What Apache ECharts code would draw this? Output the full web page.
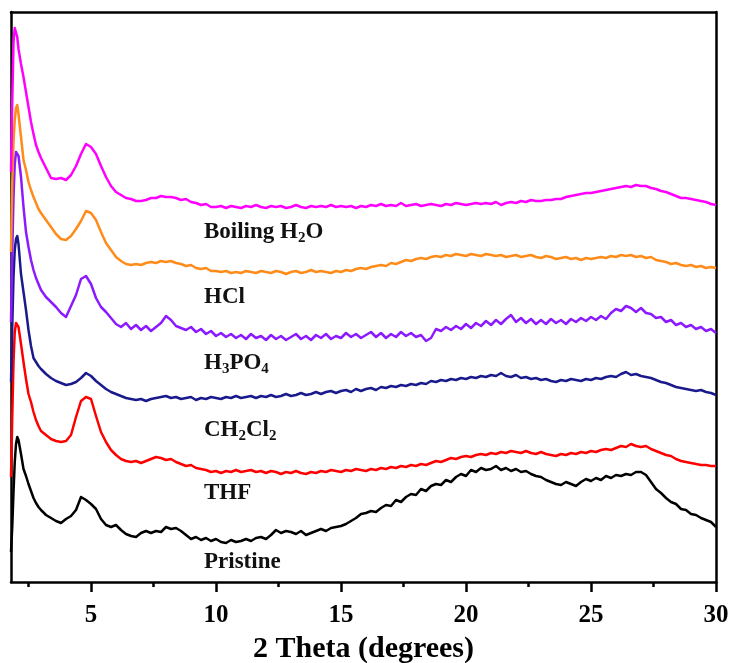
<!DOCTYPE html>
<html>
<head>
<meta charset="utf-8">
<script src="https://cdn.jsdelivr.net/npm/echarts@6/dist/echarts.min.js"></script>
<style>
  html, body { margin: 0; padding: 0; background: #ffffff; }
  #chart { width: 732px; height: 663px; }
</style>
</head>
<body>
<div id="chart"></div>
<script>
// Diffraction angle grid (2θ, degrees), shared by every pattern
const twoTheta = [
  1.8, 1.85, 1.9, 1.95, 2.0, 2.05, 2.1, 2.2, 2.3, 2.4, 2.5, 2.6, 2.7, 2.8, 2.9,
  3.0, 3.2, 3.4, 3.6, 3.8,  4.0, 4.2, 4.4, 4.6, 4.8,  5.0, 5.2, 5.4, 5.6, 5.8,
  6.0, 6.2, 6.4, 6.6, 6.8,  7.0, 7.2, 7.4, 7.6, 7.8,  8.0, 8.2, 8.4, 8.6, 8.8,
  9.0, 9.2, 9.4, 9.6, 9.8,  10.0, 10.2, 10.4, 10.6, 10.8,  11.0, 11.2, 11.4, 11.6, 11.8,
  12.0, 12.2, 12.4, 12.6, 12.8,  13.0, 13.2, 13.4, 13.6, 13.8,  14.0, 14.2, 14.4, 14.6, 14.8,
  15.0, 15.2, 15.4, 15.6, 15.8,  16.0, 16.2, 16.4, 16.6, 16.8,  17.0, 17.2, 17.4, 17.6, 17.8,
  18.0, 18.2, 18.4, 18.6, 18.8,  19.0, 19.2, 19.4, 19.6, 19.8,  20.0, 20.2, 20.4, 20.6, 20.8,
  21.0, 21.2, 21.4, 21.6, 21.8,  22.0, 22.2, 22.4, 22.6, 22.8,  23.0, 23.2, 23.4, 23.6, 23.8,
  24.0, 24.2, 24.4, 24.6, 24.8,  25.0, 25.2, 25.4, 25.6, 25.8,  26.0, 26.2, 26.4, 26.6, 26.8,
  27.0, 27.2, 27.4, 27.6, 27.8,  28.0, 28.2, 28.4, 28.6, 28.8,  29.0, 29.2, 29.4, 29.6, 29.8,
  30.0
];

// Stacked intensities (a.u., vertically offset patterns)
const boilingH2O = [
  410, 480, 540, 554, 553, 545, 533, 518, 505, 490, 475, 460, 448, 437, 430,
  424, 414, 404, 403, 404,  402, 407, 416, 428, 438,  435, 428, 416, 405, 396,
  390, 387, 384, 383, 381,  381, 382, 384, 384, 386,  385, 385, 384, 382, 383,
  380, 379, 377, 378, 375,  375, 376, 374, 376, 375,  374, 376, 375, 377, 375,
  374, 376, 375, 376, 374,  375, 377, 375, 374, 376,  375, 376, 375, 377, 375,
  376, 375, 376, 374, 376,  375, 377, 376, 378, 376,  377, 376, 379, 376, 377,
  378, 376, 377, 378, 377,  376, 378, 377, 379, 378,  377, 378, 379, 378, 379,
  378, 380, 377, 379, 380,  379, 381, 380, 382, 381,  381, 382, 382, 383, 383,
  385, 386, 387, 388, 389,  389, 390, 391, 392, 393,  394, 395, 396, 395, 397,
  396, 396, 394, 393, 391,  390, 388, 386, 384, 384,  383, 382, 381, 380, 378,
  377
];

const hcl = [
  330, 400, 440, 462, 474, 477, 468, 445, 422, 412, 400, 392, 385, 379, 373,
  369, 362, 355, 348, 343,  342, 346, 353, 361, 371,  369, 362, 350, 339, 332,
  325, 321, 318, 317, 318,  317, 319, 320, 319, 321,  320, 321, 319, 318, 316,
  317, 314, 313, 314, 311,  311, 310, 311, 309, 310,  309, 311, 310, 309, 311,
  310, 309, 311, 310, 308,  310, 311, 309, 310, 312,  310, 311, 310, 309, 311,
  310, 312, 311, 313, 314,  313, 315, 316, 317, 316,  319, 318, 320, 322, 321,
  323, 324, 323, 325, 326,  325, 327, 326, 328, 327,  326, 328, 327, 326, 328,
  327, 326, 327, 325, 326,  327, 325, 326, 327, 325,  324, 326, 325, 323, 324,
  325, 323, 324, 322, 324,  323, 324, 325, 324, 326,  325, 327, 326, 327, 325,
  326, 324, 325, 322, 321,  320, 318, 319, 317, 316,  317, 315, 316, 314, 315,
  314
];

const h3po4 = [
  260, 330, 385, 418, 430, 432, 426, 405, 375, 350, 335, 322, 312, 304, 298,
  292, 285, 280, 275, 269,  265, 276, 287, 303, 306,  298, 284, 275, 270, 264,
  258, 255, 259, 253, 257,  252, 256, 251, 255, 259,  266, 262, 256, 254, 252,
  255, 250, 253, 248, 251,  246, 249, 245, 248, 244,  247, 243, 248, 244, 246,
  242, 247, 243, 246, 242,  245, 248, 243, 246, 242,  247, 244, 248, 243, 246,
  244, 249, 245, 248, 244,  247, 250, 245, 249, 244,  248, 245, 250, 246, 249,
  245, 247, 241, 244, 253,  251, 255, 252, 256, 253,  258, 254, 259, 256, 261,
  257, 262, 258, 263, 267,  260, 264, 259, 263, 258,  262, 258, 263, 259, 262,
  258, 263, 260, 264, 261,  265, 262, 266, 263, 269,  273, 271, 276, 274, 270,
  274, 269, 268, 264, 265,  260, 262, 257, 259, 255,  257, 253, 255, 251, 253,
  249
];

const ch2cl2 = [
  200, 255, 305, 332, 343, 346, 338, 308, 290, 272, 252, 236, 224, 220, 216,
  213, 208, 204, 201, 199,  197, 198, 200, 204, 209,  206, 201, 197, 193, 190,
  188, 186, 184, 183, 182,  183, 181, 183, 184, 185,  186, 184, 185, 183, 184,
  185, 182, 184, 183, 185,  184, 183, 185, 184, 186,  184, 185, 186, 184, 186,
  185, 187, 185, 186, 188,  186, 187, 189, 187, 188,  190, 188, 190, 191, 189,
  191, 192, 190, 193, 191,  193, 194, 192, 195, 194,  196, 195, 197, 196, 198,
  197, 199, 198, 201, 200,  202, 201, 203, 202, 204,  203, 205, 204, 206, 205,
  207, 206, 209, 206, 205,  207, 204, 205, 203, 204,  202, 203, 201, 200, 202,
  201, 203, 202, 201, 203,  202, 204, 203, 205, 206,  205, 208, 210, 207, 208,
  206, 205, 204, 202, 200,  199, 197, 195, 194, 193,  192, 191, 192, 190, 189,
  187
];

const thf = [
  105, 165, 220, 250, 259, 261, 255, 238, 220, 203, 188, 180, 170, 162, 156,
  151, 147, 143, 141, 140,  141, 147, 165, 181, 185,  183, 166, 150, 140, 132,
  127, 123, 121, 120, 121,  119, 121, 123, 125, 124,  122, 123, 120, 118, 116,
  117, 114, 113, 112, 110,  111, 109, 111, 110, 112,  110, 111, 112, 110, 111,
  109, 111, 110, 108, 110,  109, 111, 109, 108, 110,  109, 111, 110, 112, 111,
  110, 112, 111, 113, 112,  111, 113, 112, 114, 113,  115, 114, 116, 115, 117,
  116, 118, 117, 119, 121,  120, 122, 124, 123, 125,  126, 125, 127, 128, 127,
  129, 128, 130, 129, 131,  130, 129, 131, 129, 128,  130, 128, 127, 126, 128,
  127, 129, 128, 130, 129,  131, 130, 132, 133, 132,  134, 136, 135, 138, 136,
  135, 136, 133, 131, 129,  127, 126, 123, 121, 120,  119, 118, 117, 117, 116,
  116
];

const pristine = [
  30, 55, 90, 120, 138, 145, 142, 128, 113, 106, 98, 91, 84, 79, 75,
  72, 67, 64, 61, 59,  63, 66, 72, 85, 82,  78, 73, 63, 57, 55,
  57, 52, 48, 46, 45,  49, 51, 49, 51, 50,  55, 53, 54, 51, 47,
  43, 45, 42, 44, 41,  43, 40, 39, 42, 40,  41, 43, 41, 44, 45,
  43, 47, 52, 49, 51,  50, 48, 51, 47, 49,  51, 53, 51, 54, 55,
  56, 58, 61, 64, 68,  69, 71, 70, 74, 77,  76, 82, 80, 85, 88,
  87, 93, 91, 96, 98,  97, 102, 100, 105, 108,  106, 112, 110, 114, 112,
  113, 116, 112, 114, 111,  113, 110, 111, 108, 106,  105, 102, 100, 98, 97,
  100, 98, 96, 100, 103,  101, 104, 102, 106, 104,  107, 106, 108, 107, 110,
  110, 107, 100, 93, 89,  84, 80, 78, 73, 72,  68, 67, 64, 62, 60,
  55
];

// Sample names (plain) and their on-chart captions (rich text with subscripts)
const sampleNames = ['Pristine', 'THF', 'CH2Cl2', 'H3PO4', 'HCl', 'Boiling H2O'];
const sampleCaptions = [
  'Pristine',
  'THF',
  'CH{s|2}Cl{s|2}',
  'H{s|3}PO{s|4}',
  'HCl',
  'Boiling H{s|2}O'
];
const sampleSeries = [pristine, thf, ch2cl2, h3po4, hcl, boilingH2O];

// Axis tick positions
const majorTicks = [5, 10, 15, 20, 25, 30];
const minorTicks = [2.5, 7.5, 12.5, 17.5, 22.5, 27.5];

const colors = ['#000000', '#ff0000', '#1a1a8c', '#8c1aff', '#ff8c1a', '#ff00ff'];
const captionTops = [548, 479, 416, 349, 283, 218];
const serif = '"Liberation Serif", "Times New Roman", serif';

const chart = echarts.init(document.getElementById('chart'), null, { renderer: 'canvas' });

const series = sampleSeries.map((vals, i) => ({
  name: sampleNames[i],
  type: 'line',
  xAxisIndex: 0,
  yAxisIndex: 0,
  data: twoTheta.map((t, k) => [t, vals[k]]),
  showSymbol: false,
  symbol: 'none',
  smooth: false,
  lineStyle: { width: 2.5, color: colors[i], join: 'round' },
  itemStyle: { color: colors[i] },
  z: 3 + i,
  silent: true,
  animation: false
}));

const captions = sampleCaptions.map((txt, i) => ({
  type: 'text',
  left: 204,
  top: captionTops[i],
  style: {
    text: txt,
    fill: '#111',
    fontSize: 23,
    fontWeight: 'bold',
    fontFamily: serif,
    lineHeight: 28,
    rich: {
      s: {
        fontSize: 15,
        fontWeight: 'bold',
        fontFamily: serif,
        fill: '#111',
        verticalAlign: 'bottom',
        lineHeight: 12
      }
    }
  }
}));

chart.setOption({
  backgroundColor: '#ffffff',
  animation: false,
  grid: { left: 11, right: 16, top: 12, bottom: 81, containLabel: false, outerBoundsMode: 'none' },
  xAxis: [
    {
      type: 'value',
      min: 1.8,
      max: 30,
      position: 'bottom',
      axisLine: { show: true, lineStyle: { color: '#000', width: 2.5 } },
      axisTick: { show: true, customValues: majorTicks, length: 10, inside: false, lineStyle: { color: '#000', width: 2.5 } },
      axisLabel: {
        show: true,
        customValues: majorTicks,
        margin: 21,
        color: '#000',
        fontSize: 25,
        fontWeight: 'bold',
        fontFamily: serif
      },
      splitLine: { show: false },
      name: '2 Theta (degrees)',
      nameLocation: 'middle',
      nameGap: 52,
      nameTextStyle: { color: '#000', fontSize: 30, fontWeight: 'bold', fontFamily: serif }
    },
    {
      type: 'value',
      min: 1.8,
      max: 30,
      position: 'bottom',
      axisLine: { show: false },
      axisTick: { show: true, customValues: minorTicks, length: 5, lineStyle: { color: '#000', width: 2.5 } },
      axisLabel: { show: false },
      splitLine: { show: false }
    },
    {
      type: 'value',
      min: 1.8,
      max: 30,
      position: 'top',
      axisLine: { show: true, lineStyle: { color: '#000', width: 2.5 } },
      axisTick: { show: false },
      axisLabel: { show: false },
      splitLine: { show: false }
    }
  ],
  yAxis: [
    {
      type: 'value',
      min: 0,
      max: 570,
      position: 'left',
      axisLine: { show: true, lineStyle: { color: '#000', width: 2.5 } },
      axisTick: { show: false },
      axisLabel: { show: false },
      splitLine: { show: false }
    },
    {
      type: 'value',
      min: 0,
      max: 570,
      position: 'right',
      axisLine: { show: true, lineStyle: { color: '#000', width: 2.5 } },
      axisTick: { show: false },
      axisLabel: { show: false },
      splitLine: { show: false }
    }
  ],
  series: series,
  graphic: captions
});
</script>
</body>
</html>
